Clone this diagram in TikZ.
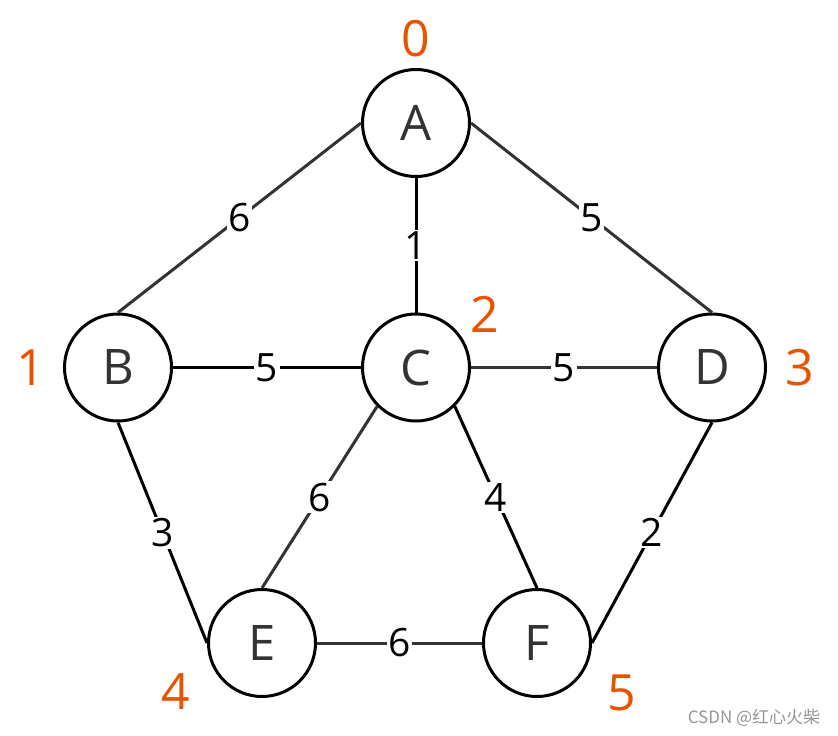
\documentclass[tikz,border=0pt]{standalone}
\usepackage{fontspec}
\setmainfont{Open Sans}
\newfontfamily\cjk{Noto Sans CJK SC}
\definecolor{orng}{RGB}{230,84,0}
\definecolor{darkg}{RGB}{51,51,51}
\definecolor{wmark}{RGB}{150,150,150}
\begin{document}
\begin{tikzpicture}[x=1pt,y=-1pt,
  vertex/.style={circle,draw=black,line width=3pt,fill=white,minimum size=107pt,inner sep=0pt,text=darkg,font=\fontsize{49}{49}\selectfont},
  gedge/.style={draw=darkg,line width=3pt},
  bedge/.style={draw=black,line width=3pt},
  lbl/.style={fill=white,inner sep=1.5pt,text=black,font=\fontsize{39}{39}\selectfont},
  idx/.style={text=orng,inner sep=0pt,font=\fontsize{50}{50}\selectfont}]
\useasboundingbox (0,0) rectangle (838,736);
\node[vertex] (A) at (416,123) {A};
\node[vertex] (B) at (118,367.5) {B};
\node[vertex] (C) at (416,367.5) {C};
\node[vertex] (D) at (712,367.5) {D};
\node[vertex] (E) at (262,643) {E};
\node[vertex] (F) at (537,643) {F};
\draw[gedge] (A.west) -- node[midway,lbl] {6} (B.north);
\draw[bedge] (A.south) -- node[midway,lbl] {1} (C.north);
\draw[gedge] (A.east) -- node[midway,lbl] {5} (D.north);
\draw[bedge] (B.east) -- node[midway,lbl] {5} (C.west);
\draw[gedge] (C.east) -- node[midway,lbl] {5} (D.west);
\draw[bedge] (B.south) -- node[midway,lbl] {3} (E.west);
\draw[gedge] (C.south west) -- node[midway,lbl] {6} (E.north);
\draw[bedge] (C.south east) -- node[midway,lbl] {4} (F.north);
\draw[bedge] (D.south) -- node[midway,lbl] {2} (F.east);
\draw[gedge] (E.east) -- node[midway,lbl] {6} (F.west);
\node[idx] (n0) at (416,38.5) {0};
\node[idx] (n1) at (31,368) {1};
\node[idx] (n2) at (485,314) {2};
\node[idx] (n3) at (800,368) {3};
\node[idx] (n4) at (175.5,692) {4};
\node[idx] (n5) at (622,692.5) {5};
\node[text=wmark,inner sep=0pt,font=\cjk\fontsize{17}{17}\selectfont] (wm) at (754,718) {CSDN @红心火柴};
\end{tikzpicture}
\end{document}
